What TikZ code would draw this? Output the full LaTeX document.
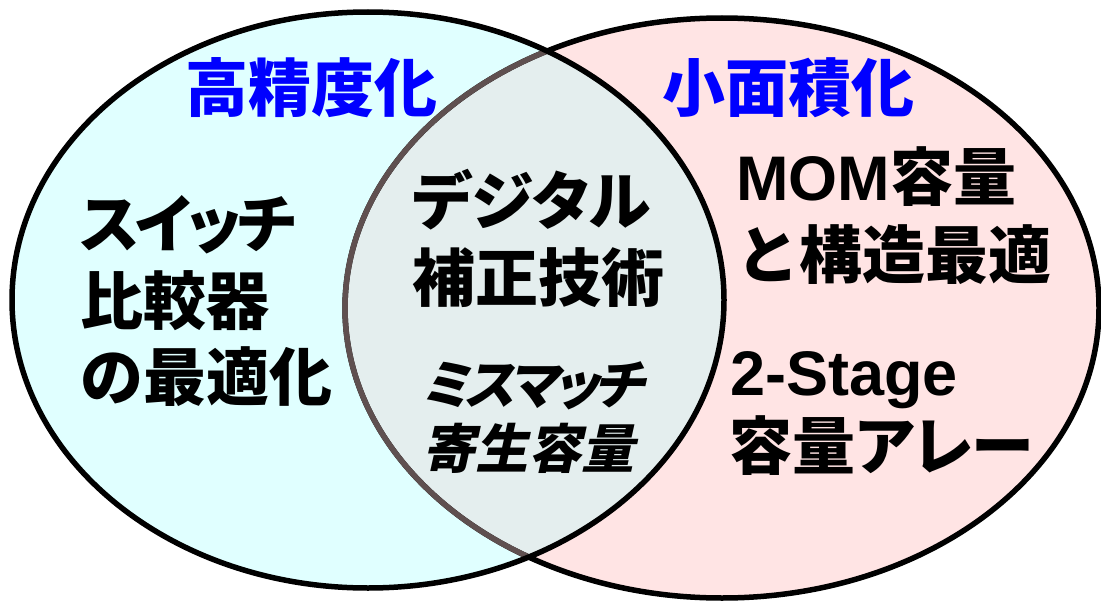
\documentclass[tikz,border=0pt]{standalone}
\usepackage{fontspec}
\setmainfont{Liberation Sans}
\newfontfamily\cjk{Noto Sans CJK JP}
\newfontfamily\cjkp{Noto Sans CJK JP}[RawFeature=+palt]
\newfontfamily\cjksl{Noto Sans CJK JP}[FakeSlant=0.22, RawFeature=+palt]
\newfontfamily\lat{Liberation Sans}
\definecolor{lcyan}{RGB}{224,255,255}
\definecolor{lpink}{RGB}{255,228,228}
\definecolor{lmix}{RGB}{228,238,238}
\definecolor{mixline}{RGB}{95,80,80}
\definecolor{tblue}{RGB}{0,0,255}
\tikzset{
  big/.style={anchor=base west, inner sep=0pt, font=\cjk\bfseries\fontsize{63}{63}\selectfont},
  kana/.style={big, font=\cjkp\bfseries\fontsize{63}{63}\selectfont},
  title/.style={big, text=tblue},
  slanted/.style={anchor=base west, inner sep=0pt, font=\cjksl\bfseries\fontsize{53}{53}\selectfont},
  ring/.style={draw=black, line width=5.5pt}
}
\begin{document}
\begin{tikzpicture}[x=1pt,y=-1pt]
\useasboundingbox (0,0) rectangle (1101,602);
\def\leftell{(368,300) ellipse [x radius=356pt, y radius=288pt]}
\def\rightell{(722,308) ellipse [x radius=377pt, y radius=290pt]}
% fills
\fill[lpink] \rightell;
\fill[lcyan] \leftell;
\begin{scope}
  \clip \leftell;
  \fill[lmix] \rightell;
\end{scope}
% borders
\draw[ring] \rightell;
\begin{scope}
  \clip \leftell;
  \draw[ring, draw=mixline] \rightell;
\end{scope}
\draw[ring] \leftell;
% titles
\node[title] (t1) at (185,111) {高精度化};
\node[title] (t2) at (662,111) {小面積化};
% left
\node[kana] (l1) at (80,247) {\addfontfeature{LetterSpace=-6}スイッチ};
\node[big] (l2) at (80,324) {比較器};
\node[big] (l3) at (80,400) {の最適化};
% middle
\node[kana] (m1) at (412,224) {デジタル};
\node[big] (m2) at (412,301) {補正技術};
\node[slanted] (m3) at (422,404) {\addfontfeature{LetterSpace=-8}ミスマッチ};
\node[slanted] (m4) at (422,468) {寄生容量};
% right
\node[big] (r1) at (736,200) {{\lat MOM}容量};
\node[big] (r2) at (736,278) {と構造最適};
\node[big] (r3) at (730,395) {\lat 2-Stage};
\node[big] (r4) at (729,469) {容量{\cjkp アレー}};
\end{tikzpicture}
\end{document}
